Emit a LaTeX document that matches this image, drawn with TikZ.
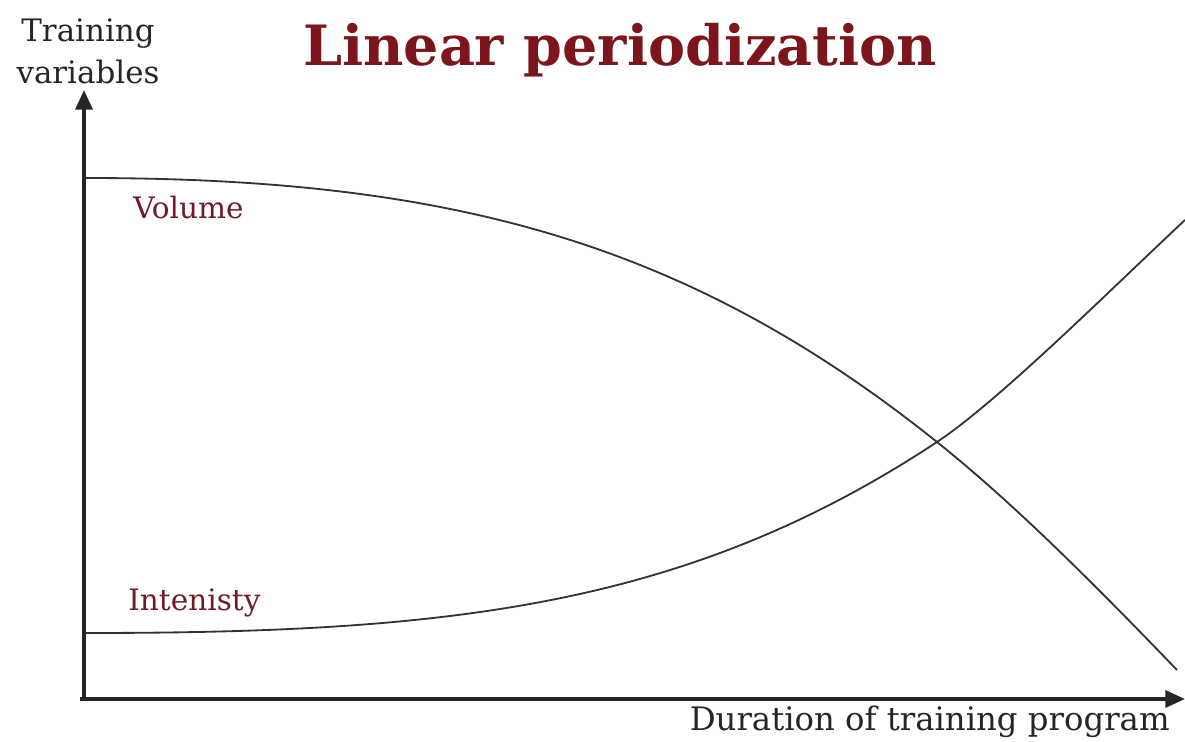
\documentclass[tikz,border=0pt]{standalone}
\usepackage{fontspec}
\setmainfont{DejaVu Serif}
\usepackage{xcolor}
\usetikzlibrary{arrows.meta}

\definecolor{titlered}{RGB}{125,22,28}
\definecolor{labelred}{RGB}{112,28,38}

\tikzset{
    axis/.style={line width=2.8pt, draw=black!85, -{Triangle[length=14pt,width=12pt]}},
    curve/.style={line width=1.3pt, draw=black!80},
    axislabel/.style={font=\fontsize{22}{30}\selectfont, text=black!85, inner sep=0pt},
    curvelabel/.style={font=\fontsize{21}{24}\selectfont, text=labelred, inner sep=0pt, anchor=west}
}

\begin{document}
\begin{tikzpicture}[x=0.025cm, y=-0.025cm]
    \useasboundingbox (0,0) rectangle (1185,742);

    % Title
    \node[font=\bfseries\fontsize{39.5}{44}\selectfont, text=titlered] (title) at (620,50) {Linear periodization};

    % Axes
    \coordinate (origin) at (80,699);
    \coordinate (ytip) at (84,90);
    \coordinate (xtip) at (1185,699);
    \draw[axis] (84,701) -- (ytip);
    \draw[axis] (origin) -- (xtip);

    % Axis labels
    \node[axislabel, align=center] (ylab) at (88,51) {Training\\variables};
    \node[axislabel, font=\fontsize{23}{26}\selectfont, anchor=east] (xlab) at (1170,722) {Duration of training program};

    % Volume
    \coordinate (cross) at (937,442);
    \draw[curve] (86,178) .. controls (450,178) and (687,242) .. (cross)
        .. controls (1017,506) and (1100,590) .. (1177,670);
    \node[curvelabel] (volume) at (133,207) {Volume};

    % Intensity
    \draw[curve] (86,633) .. controls (450,633) and (687,607) .. (cross)
        .. controls (1000,400) and (1110,290) .. (1185,220);
    \node[curvelabel] (intensity) at (128,603) {Intenisty};
\end{tikzpicture}
\end{document}
